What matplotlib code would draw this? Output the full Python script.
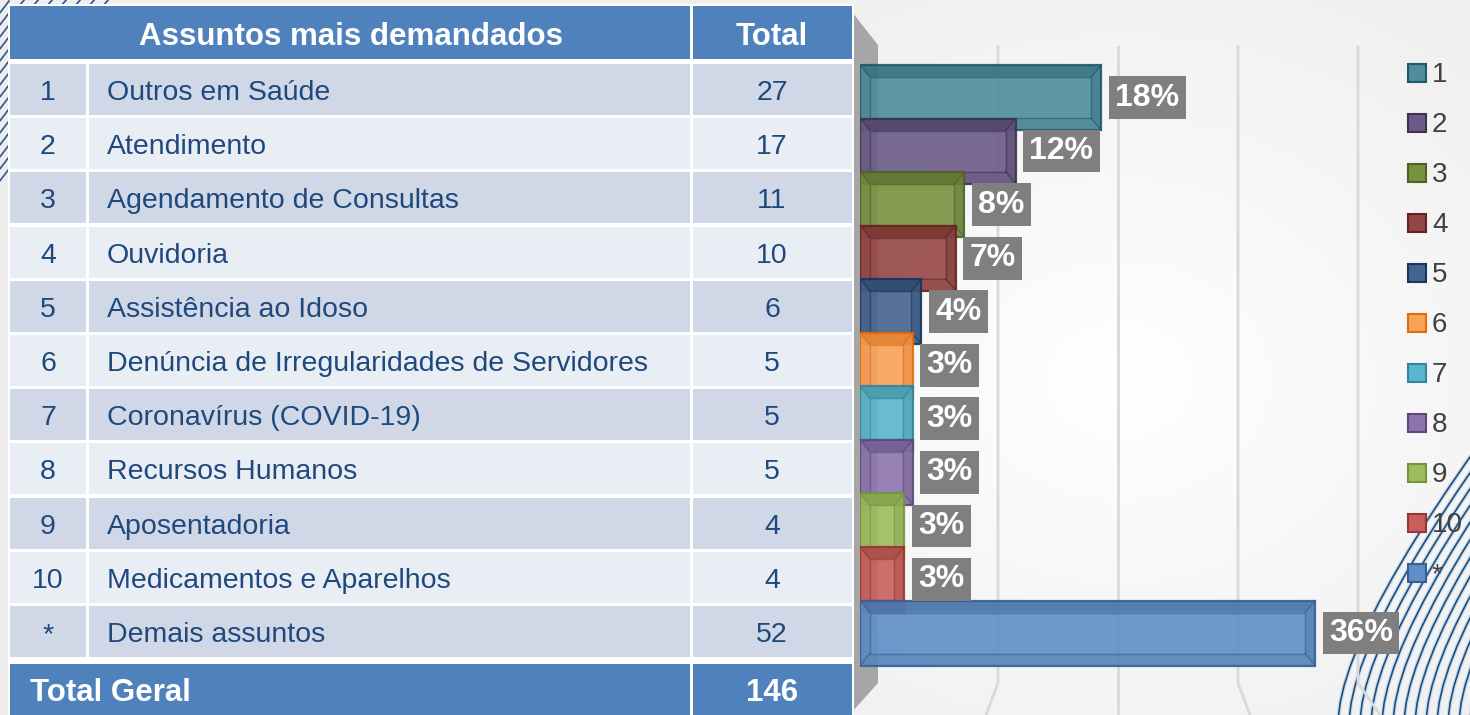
import numpy as np
import matplotlib
matplotlib.use('Agg')
import matplotlib.pyplot as plt
from matplotlib.patches import Rectangle, Polygon
from matplotlib.path import Path
from matplotlib.patches import PathPatch

plt.rcParams['font.family'] = ['Liberation Sans', 'DejaVu Sans']

# dados
ranks = ['1', '2', '3', '4', '5', '6', '7', '8', '9', '10', '*']
subjects = ['Outros em Saúde', 'Atendimento', 'Agendamento de Consultas', 'Ouvidoria',
            'Assistência ao Idoso', 'Denúncia de Irregularidades de Servidores',
            'Coronavírus (COVID-19)', 'Recursos Humanos', 'Aposentadoria',
            'Medicamentos e Aparelhos', 'Demais assuntos']
totals = [27, 17, 11, 10, 6, 5, 5, 5, 4, 4, 52]
bar_faces = ['#4F8C9E', '#6B5A87', '#78913F', '#954545', '#45638F', '#F9A25A',
             '#5AB6CC', '#8D74AE', '#9DBD5C', '#C95F5C', '#5F8DC6']
bar_edges = ['#215968', '#3F3151', '#4F6228', '#632523', '#17375E', '#E46C0A',
             '#31859C', '#5F497A', '#77933C', '#953735', '#376092']

total_geral = sum(totals)
W, H = 1470, 715

fig = plt.figure(figsize=(W / 100, H / 100), dpi=100)
fig.patch.set_facecolor('#F2F2F2')

# fundo em coordenadas de pixel
bg = fig.add_axes([0, 0, 1, 1])
bg.set_xlim(0, W)
bg.set_ylim(H, 0)
bg.axis('off')

# gradiente radial claro atras do grafico
yy, xx = np.mgrid[0:H, 0:W]
dist = np.sqrt(((xx - 1120) / 650.0) ** 2 + ((yy - 380) / 520.0) ** 2)
g = np.clip(1.0 - 0.07 * dist, 0.93, 1.0)
bg.imshow(np.dstack([g, g, g]), extent=(0, W, H, 0), zorder=0, aspect='auto')

# riscos decorativos (canto superior esquerdo)
for x0 in range(22, 110, 14):
    bg.plot([x0 - 3, x0 + 3], [6, -1], color='#2F5597', lw=1.2, zorder=1)
for y0 in range(6, 175, 12):
    bg.plot([-1, 9], [y0 + 8, y0 - 5], color='#2F5597', lw=1.2, zorder=1)

# linhas curvas decorativas (canto inferior direito)
for k in range(13):
    xb = 1338 + 11 * k
    verts = [(xb, 725), (xb, 615), (xb + 250, 300)]
    path = Path(verts, [Path.MOVETO, Path.CURVE3, Path.CURVE3])
    bg.add_patch(PathPatch(path, fc='none', ec='#C9DCEF', lw=3.0, zorder=1))
    bg.add_patch(PathPatch(path, fc='none', ec='#1F4E79', lw=1.2, zorder=1))

# parede lateral 3D e linhas de grade
bg.add_patch(Polygon([(852, 12), (878, 45), (878, 683), (852, 712)], closed=True,
                     fc='#A6A6A6', ec='none', zorder=2))
for gx, bx in [(998, 986), (1118, 1118), (1238, 1250), (1358, 1380)]:
    bg.plot([gx, gx, bx], [47, 683, 715], color='#D9D9D9', lw=2, zorder=2)

# tabela
blue = '#4F81BD'
txt_col = '#1F497D'
row_cols = ['#D0D8E8', '#E9EDF4']
bg.add_patch(Rectangle((8, 4), 846, 711, fc='white', ec='none', zorder=3))
bg.add_patch(Rectangle((10, 6), 680, 53, fc=blue, ec='none', zorder=4))
bg.add_patch(Rectangle((693, 6), 159, 53, fc=blue, ec='none', zorder=4))
bg.text(351, 37, 'Assuntos mais demandados', ha='center', va='center', fontsize=22.5,
        weight='bold', color='white', zorder=5)
bg.text(772, 37, 'Total', ha='center', va='center', fontsize=22.5,
        weight='bold', color='white', zorder=5)
pitch = 54.2
for i, (r, s, t) in enumerate(zip(ranks, subjects, totals)):
    top = 64 + pitch * i
    fc = row_cols[i % 2]
    bg.add_patch(Rectangle((10, top), 76, 51, fc=fc, ec='none', zorder=4))
    bg.add_patch(Rectangle((89, top), 601, 51, fc=fc, ec='none', zorder=4))
    bg.add_patch(Rectangle((693, top), 159, 51, fc=fc, ec='none', zorder=4))
    cy = top + 29
    bg.text(48, cy, r, ha='center', va='center', fontsize=20.5, color=txt_col, zorder=5)
    bg.text(107, cy, s, ha='left', va='center', fontsize=20.5, color=txt_col, zorder=5)
    bg.text(772, cy, str(t), ha='center', va='center', fontsize=20.5, color=txt_col, zorder=5)
bg.add_patch(Rectangle((10, 664), 680, 60, fc=blue, ec='none', zorder=4))
bg.add_patch(Rectangle((693, 664), 159, 60, fc=blue, ec='none', zorder=4))
bg.text(30, 693, 'Total Geral', ha='left', va='center', fontsize=22.5,
        weight='bold', color='white', zorder=5)
bg.text(772, 693, str(total_geral), ha='center', va='center', fontsize=22.5,
        weight='bold', color='white', zorder=5)

# legenda
for k, lab in enumerate(ranks):
    ly = 73 + 50 * k
    bg.add_patch(Rectangle((1408, ly - 9), 18, 18, fc=bar_faces[k], ec=bar_edges[k],
                           lw=1.5, zorder=5))
    bg.text(1432, ly + 2, lab, ha='left', va='center', fontsize=20, color='#404040', zorder=5)

# grafico de barras 3D
sx, sy = 8.56, 53.55          # pixels por unidade
ax = fig.add_axes([860 / W, 0, (W - 860) / W, 1])
ax.patch.set_alpha(0)
ax.axis('off')
ax.set_xlim(-10 / sx, (W - 870) / sx)
ax.set_ylim((H - 97.5) / sy, -97.5 / sy)

ext = 10 / sx
dy = 12 / sy
hh = 65 / sy / 2
for i, v in enumerate(totals):
    z = 10 + 4 * i
    fc, ec = bar_faces[i], bar_edges[i]
    ax.barh(i, v + ext, left=-ext, height=2 * hh, color=fc, alpha=0.9,
            edgecolor=ec, lw=1.6, zorder=z)
    t, b = i - hh, i + hh
    faces = [
        ([(-ext, t), (v, t), (v - ext, t + dy), (0, t + dy)], 0.45),
        ([(v, t), (v, b), (v - ext, b - dy), (v - ext, t + dy)], 0.3),
        ([(-ext, b), (v, b), (v - ext, b - dy), (0, b - dy)], 0.15),
        ([(-ext, t), (-ext, b), (0, b - dy), (0, t + dy)], 0.1),
    ]
    for pts, a in faces:
        ax.add_patch(Polygon(pts, closed=True, fc=ec, ec='none', alpha=a, zorder=z + 1))
    ax.add_patch(Rectangle((0, t + dy), v - ext, 2 * hh - 2 * dy, fc='none', ec=ec,
                           lw=1.0, alpha=0.6, zorder=z + 1))
    for (x1, y1), (x2, y2) in [((-ext, t), (0, t + dy)), ((v, t), (v - ext, t + dy)),
                               ((-ext, b), (0, b - dy)), ((v, b), (v - ext, b - dy))]:
        ax.plot([x1, x2], [y1, y2], color=ec, lw=1.0, alpha=0.7, zorder=z + 1)
    pct = round(v / total_geral * 100)
    ax.annotate(f'{pct}%', xy=(v, i), xytext=(10, 0), textcoords='offset points',
                ha='left', va='center', fontsize=23, weight='bold', color='white',
                bbox=dict(boxstyle='square,pad=0.2', fc='#7F7F7F', ec='none'),
                zorder=60)

fig.savefig('out.png', dpi=100, facecolor=fig.get_facecolor())
